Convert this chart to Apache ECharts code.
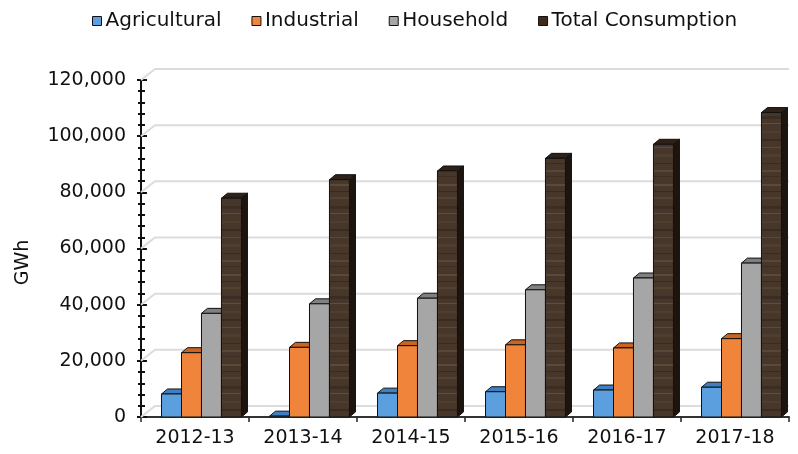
<!DOCTYPE html>
<html>
<head>
<meta charset="utf-8">
<script src="https://cdn.jsdelivr.net/npm/echarts@6/dist/echarts.min.js"></script>
<style>
  html, body { margin: 0; padding: 0; background: #fff; }
  #chart { width: 798px; height: 454px; }
</style>
</head>
<body>
<div id="chart"></div>
<script>
(function () {
    var years        = ['2012-13', '2013-14', '2014-15', '2015-16', '2016-17', '2017-18'];
    var agricultural = [8200, 300, 8500, 9000, 9600, 10600];
    var industrial   = [22900, 24800, 25400, 25700, 24600, 27900];
    var household    = [36900, 40300, 42300, 45300, 49500, 54800];
    var total        = [77900, 84500, 87600, 92100, 97100, 108400];
    var yTicks       = [0, 20000, 40000, 60000, 80000, 100000, 120000];

    var FONT = 'DejaVu Sans';
    // 3D look: bar depth and back wall offset (pixels)
    var DX = 6, DY = 5;
    var WALL_X = 14, WALL_Y = 11;

    // Wood-like fill for the total bars (fixed streak layout, not data)
    function woodPattern() {
        var c = document.createElement('canvas');
        c.width = 24; c.height = 90;
        var g = c.getContext('2d');
        g.fillStyle = '#47362a';
        g.fillRect(0, 0, 24, 90);
        var streaks = [
            [4, 2, 'rgba(120,98,70,0.45)'], [11, 1, 'rgba(30,20,12,0.35)'],
            [17, 2, 'rgba(110,90,64,0.35)'], [26, 3, 'rgba(35,25,16,0.30)'],
            [33, 1, 'rgba(130,108,78,0.45)'], [41, 2, 'rgba(98,80,56,0.30)'],
            [49, 2, 'rgba(30,20,12,0.30)'], [57, 1, 'rgba(125,104,74,0.40)'],
            [64, 3, 'rgba(100,82,58,0.30)'], [73, 1, 'rgba(35,24,15,0.35)'],
            [80, 2, 'rgba(118,96,68,0.40)'], [86, 1, 'rgba(40,28,18,0.30)']
        ];
        streaks.forEach(function (s) {
            g.fillStyle = s[2];
            g.fillRect(0, s[0], 24, s[1]);
        });
        return c;
    }
    var wood = { image: woodPattern(), repeat: 'repeat' };

    var seriesDefs = [
        { name: 'Agricultural',      data: agricultural, front: '#5b9fdf', top: '#3f80c2', side: '#2f67a3' },
        { name: 'Industrial',        data: industrial,   front: '#f0843a', top: '#cc6420', side: '#a84f15' },
        { name: 'Household',         data: household,    front: '#a6a6a6', top: '#808080', side: '#6a6a6a' },
        { name: 'Total Consumption', data: total,        front: wood,      top: '#2e2117', side: '#1c140d', legend: '#3d2b1d' }
    ];

    function barRenderer(idx, def) {
        return function (params, api) {
            var cat = api.value(0);
            var base = api.coord([cat, 0]);
            var top = api.coord([cat, api.value(1)]);
            var band = api.size([1, 0])[0];
            var bw = band * 0.185;
            var x0 = base[0] - band * 0.31 + idx * bw;
            var x1 = x0 + bw;
            var yt = top[1], yb = base[1];
            return {
                type: 'group',
                children: [
                    { type: 'polygon',
                      shape: { points: [[x1, yt], [x1 + DX, yt - DY], [x1 + DX, yb - DY], [x1, yb]] },
                      style: { fill: def.side, stroke: '#111', lineWidth: 1 } },
                    { type: 'polygon',
                      shape: { points: [[x0, yt], [x1, yt], [x1 + DX, yt - DY], [x0 + DX, yt - DY]] },
                      style: { fill: def.top, stroke: '#111', lineWidth: 1 } },
                    { type: 'rect',
                      shape: { x: x0, y: yt, width: bw, height: yb - yt },
                      style: { fill: def.front, stroke: '#111', lineWidth: 1 } }
                ]
            };
        };
    }

    var series = [];

    // gridlines drawn as a back wall with a short diagonal from the axis
    series.push({
        type: 'custom',
        silent: true,
        z: 1,
        data: yTicks.map(function (v) { return [0, v]; }),
        renderItem: function (params, api) {
            var cs = params.coordSys;
            var y = api.coord([0, api.value(1)])[1];
            return {
                type: 'polyline',
                shape: { points: [[cs.x, y], [cs.x + WALL_X, y - WALL_Y], [cs.x + cs.width, y - WALL_Y]] },
                style: { stroke: '#dcdcdc', lineWidth: 2, fill: null }
            };
        }
    });

    seriesDefs.forEach(function (def, i) {
        series.push({
            name: def.name,
            type: 'custom',
            z: 2 + i,
            itemStyle: { color: def.legend || def.front },
            data: def.data.map(function (v, k) { return [k, v]; }),
            renderItem: barRenderer(i, def)
        });
    });

    var chart = echarts.init(document.getElementById('chart'));
    chart.setOption({
        animation: false,
        textStyle: { fontFamily: FONT },
        legend: {
            data: seriesDefs.map(function (d) { return d.name; }),
            top: 6,
            left: 87,
            icon: 'rect',
            itemWidth: 9,
            itemHeight: 9,
            itemGap: 30,
            itemStyle: { borderColor: '#111', borderWidth: 1 },
            textStyle: { fontFamily: FONT, fontSize: 20, color: '#111', padding: [0, 0, 0, -1] }
        },
        grid: { left: 141, right: 9, top: 80, bottom: 37 },
        xAxis: {
            type: 'category',
            data: years,
            boundaryGap: true,
            axisLine: { lineStyle: { color: '#333', width: 2 } },
            axisTick: { show: true, length: 5, lineStyle: { color: '#222', width: 1.5 } },
            axisLabel: { fontFamily: FONT, fontSize: 19, color: '#111', margin: 12 },
            splitLine: { show: false }
        },
        yAxis: [{
            type: 'value',
            min: 0,
            max: 120000,
            interval: 20000,
            name: 'GWh',
            nameLocation: 'middle',
            nameGap: 108,
            nameTextStyle: { fontFamily: FONT, fontSize: 19, color: '#111', padding: [0, 28, 0, 0] },
            axisLine: { show: true, lineStyle: { color: '#111', width: 2 } },
            axisTick: { show: true, length: 4, lineStyle: { color: '#111', width: 2 } },
            minorTick: { show: true, splitNumber: 5, length: 3, lineStyle: { color: '#111', width: 2 } },
            axisLabel: { fontFamily: FONT, fontSize: 19, color: '#111', margin: 15 },
            splitLine: { show: false }
        }, {
            type: 'value',
            position: 'left',
            min: 0,
            max: 120000,
            interval: 20000,
            axisLine: { show: false },
            axisTick: { show: true, inside: true, length: 6, lineStyle: { color: '#111', width: 2 } },
            minorTick: { show: true, splitNumber: 5, length: 4, lineStyle: { color: '#111', width: 2 } },
            axisLabel: { show: false },
            splitLine: { show: false }
        }],
        series: series
    });

    window.addEventListener('resize', function () { chart.resize(); });
})();
</script>
</body>
</html>
